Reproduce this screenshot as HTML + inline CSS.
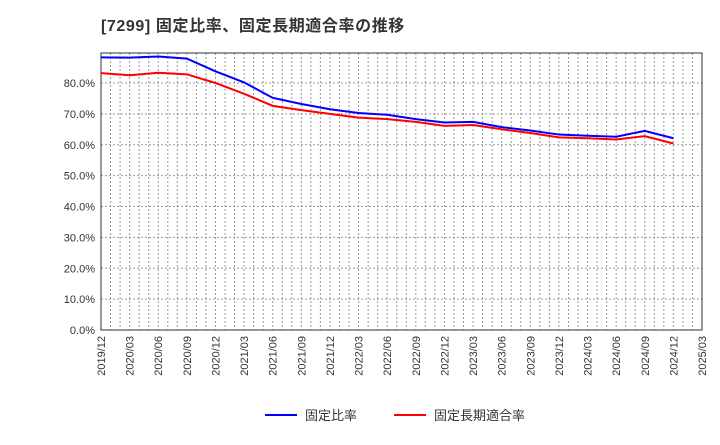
<!DOCTYPE html>
<html><head><meta charset="utf-8"><style>
body{margin:0;background:#fff;font-family:"Liberation Sans","Noto Sans CJK JP",sans-serif;}
</style></head><body>
<svg id="c" width="720" height="440" xmlns="http://www.w3.org/2000/svg" font-family="Liberation Sans, Noto Sans CJK JP, sans-serif">
<text x="101" y="31" font-size="16" font-weight="bold" fill="#333" letter-spacing="0.6">[7299]  固定比率、固定長期適合率の推移</text>
<g id="grid"></g><g id="axes"></g><g id="series"></g>
<g>
<line x1="265" y1="415" x2="297" y2="415" stroke="#0000ff" stroke-width="2"/>
<text x="305" y="420" font-size="13" fill="#333">固定比率</text>
<line x1="394" y1="415" x2="426" y2="415" stroke="#ff0000" stroke-width="2"/>
<text x="434" y="420" font-size="13" fill="#333">固定長期適合率</text>
</g>
</svg>
<script>
const categories=["2019/12","2020/03","2020/06","2020/09","2020/12","2021/03","2021/06","2021/09","2021/12","2022/03","2022/06","2022/09","2022/12","2023/03","2023/06","2023/09","2023/12","2024/03","2024/06","2024/09","2024/12","2025/03"];
const fixedRatio=[88.3,88.2,88.6,87.9,83.8,80.2,75.2,73.2,71.5,70.3,69.7,68.3,67.2,67.4,65.7,64.6,63.3,62.9,62.6,64.5,62.1];
const fixedLongTermRatio=[83.2,82.5,83.3,82.8,80.0,76.5,72.6,71.2,70.0,68.8,68.3,67.4,66.1,66.4,65.0,63.8,62.4,62.1,61.7,62.8,60.4];
const yTicks=[0,10,20,30,40,50,60,70,80];
const L=101,R=702,T=53,B=330,N=categories.length-1;
const xs=i=>L+(R-L)*i/N;
const ys=v=>B-v*(B-83)/80;
const ns="http://www.w3.org/2000/svg";
function mk(tag,parent,attrs){const e=document.createElementNS(ns,tag);for(const k in attrs)e.setAttribute(k,attrs[k]);parent.appendChild(e);return e;}
const grid=document.getElementById('grid'),axes=document.getElementById('axes'),ser=document.getElementById('series');
for(let m=1;m<N*3;m++){const x=L+(R-L)*m/(N*3);const l=mk('line',grid,{x1:x,x2:x,y1:T,y2:B,stroke:'#999','stroke-dasharray':'2,2','stroke-width':1});

}
yTicks.forEach(v=>{const y=ys(v);
if(v>0){const g=mk('line',grid,{x1:L,x2:R,y1:y,y2:y,stroke:'#999','stroke-dasharray':'2,2'});

}
const t=mk('text',axes,{x:L-6,y:y+4,'font-size':11,fill:'#333','text-anchor':'end'});t.textContent=v.toFixed(1)+'%';

});
const fr=mk('rect',axes,{x:L,y:T,width:R-L,height:B-T,fill:'none',stroke:'#333'});


categories.forEach((c,i)=>{const x=xs(i);const t=mk('text',axes,{x:x+4,y:B+6,'font-size':11,fill:'#333','text-anchor':'end',transform:`rotate(-90 ${x+4} ${B+6})`});t.textContent=c;

});
function line(vals,color,name){const p=mk('polyline',ser,{points:vals.map((v,i)=>xs(i)+','+ys(v)).join(' '),fill:'none',stroke:color,'stroke-width':2});

}
line(fixedRatio,'#0000ff','fixed-ratio-line');
line(fixedLongTermRatio,'#ff0000','fixed-long-term-ratio-line');
</script>
</body></html>
